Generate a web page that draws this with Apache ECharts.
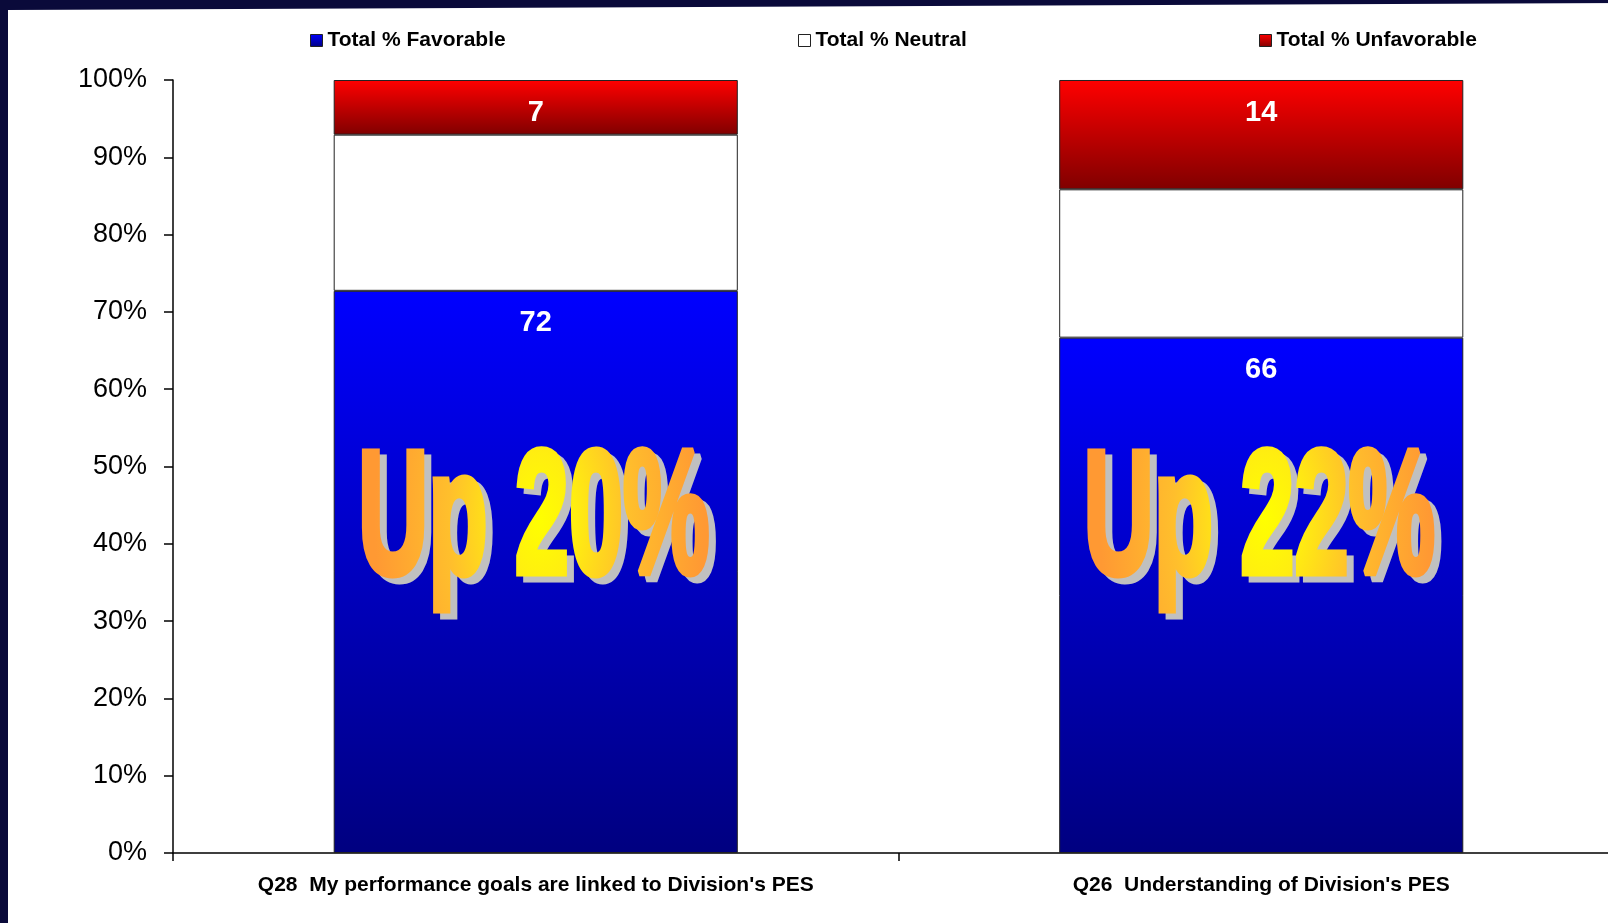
<!DOCTYPE html>
<html><head><meta charset="utf-8">
<script src="https://cdn.jsdelivr.net/npm/echarts@6/dist/echarts.min.js"></script>
<style>html,body{margin:0;padding:0;overflow:hidden;background:#0a0a3a}#c{width:1624px;height:923px}</style>
</head><body><div id="c"></div>
<script>
const categories = ["Q28  My performance goals are linked to Division's PES", "Q26  Understanding of Division's PES"];
const favorable = [72, 66];
const neutral = [20, 19];
const unfavorable = [7, 14];
const gainLabels = ['Up 20%', 'Up 22%'];
const yTicks = [0, 10, 20, 30, 40, 50, 60, 70, 80, 90, 100];

const totals = categories.map((_, i) => favorable[i] + neutral[i] + unfavorable[i]);
const toPct = arr => arr.map((v, i) => v / totals[i] * 100);

const chart = echarts.init(document.getElementById('c'), null, {renderer: 'canvas'});
const FONT = 'Liberation Sans, Arial, sans-serif';

const blueGrad = {type: 'linear', x: 0, y: 0, x2: 0, y2: 1, colorStops: [{offset: 0, color: '#0000ff'}, {offset: 1, color: '#000080'}]};
const redGrad = {type: 'linear', x: 0, y: 0, x2: 0, y2: 1, colorStops: [{offset: 0, color: '#ff0000'}, {offset: 1, color: '#800000'}]};

const valueLabel = (raw) => ({
  show: true, position: 'insideTop', distance: 18, color: '#fff',
  fontFamily: FONT, fontWeight: 'bold', fontSize: 29,
  formatter: p => String(raw[p.dataIndex])
});

const legendBase = {
  top: 30, padding: 0, itemWidth: 12, itemHeight: 12, icon: 'rect',
  itemStyle: {borderColor: '#222', borderWidth: 1},
  textStyle: {fontFamily: FONT, fontWeight: 'bold', fontSize: 21, color: '#000'},
  selectedMode: false
};

chart.setOption({
  animation: false,
  backgroundColor: 'transparent',
  legend: [
    Object.assign({}, legendBase, {left: 310, data: ['Total % Favorable']}),
    Object.assign({}, legendBase, {left: 798, data: ['Total % Neutral']}),
    Object.assign({}, legendBase, {left: 1259, data: ['Total % Unfavorable']})
  ],
  grid: {left: 173, right: 0, top: 80, bottom: 70, containLabel: false},
  xAxis: {
    type: 'category', data: categories,
    axisLine: {lineStyle: {color: '#000', width: 1.5}},
    axisTick: {show: true, length: 8, lineStyle: {color: '#000', width: 1.5}},
    axisLabel: {margin: 22, color: '#000', fontFamily: FONT, fontWeight: 'bold', fontSize: 21}
  },
  yAxis: {
    type: 'value', min: 0, max: 100, interval: 10,
    axisLine: {show: true, lineStyle: {color: '#000', width: 1.5}},
    axisTick: {show: true, length: 9, lineStyle: {color: '#000', width: 1.5}},
    splitLine: {show: false},
    axisLabel: {margin: 26, color: '#000', fontFamily: FONT, fontSize: 27,
      formatter: v => yTicks.includes(v) ? v + '%' : ''}
  },
  series: [
    {name: 'Total % Favorable', type: 'bar', stack: 's', barWidth: '55.7%',
     data: toPct(favorable),
     itemStyle: {color: blueGrad, borderColor: '#222', borderWidth: 1},
     label: valueLabel(favorable)},
    {name: 'Total % Neutral', type: 'bar', stack: 's',
     data: toPct(neutral),
     itemStyle: {color: '#ffffff', borderColor: '#222', borderWidth: 1},
     label: {show: false}},
    {name: 'Total % Unfavorable', type: 'bar', stack: 's',
     data: toPct(unfavorable),
     itemStyle: {color: redGrad, borderColor: '#222', borderWidth: 1},
     label: valueLabel(unfavorable)}
  ]
});

// Radial gradient in the annotation text's local coordinates.
// zrender only assigns string fills to text, so a tiny path with the same
// transform is drawn just before the text to load the gradient into the context.
const textGrad = {type: 'radial', x: 10, y: -5, r: 300, global: true,
  colorStops: [{offset: 0, color: '#ffff00'}, {offset: 0.22, color: '#ffee10'},
               {offset: 0.55, color: '#ffbf2c'}, {offset: 1, color: '#ff9933'}]};
const inherit = {inheritGradient: true};

const graphics = [{
  type: 'polygon', z: -100, silent: true,
  shape: {points: [[8, 10], [1624, 3], [1624, 923], [8, 923]]},
  style: {fill: '#ffffff'}
}];
const SX = 0.55;
gainLabels.forEach((t, i) => {
  const pt = chart.convertToPixel({xAxisIndex: 0, yAxisIndex: 0}, [i, 42.6]);
  const common = {fontFamily: FONT, fontWeight: 'bold', fontSize: 177, align: 'center', verticalAlign: 'middle', text: t, lineWidth: 7};
  graphics.push({
    type: 'text', z: 48, silent: true,
    x: pt[0] + 5, y: pt[1] + 6, scaleX: SX, scaleY: 1,
    style: Object.assign({}, common, {fill: '#c0c0c0', stroke: '#c0c0c0'})
  });
  graphics.push({
    type: 'rect', z: 49, silent: true,
    x: pt[0] - 2, y: pt[1], scaleX: SX, scaleY: 1,
    shape: {x: 0, y: 0, width: 0.01, height: 0.01},
    style: {fill: textGrad, stroke: textGrad, lineWidth: 0.01}
  });
  graphics.push({
    type: 'text', z: 50, silent: true,
    x: pt[0] - 2, y: pt[1], scaleX: SX, scaleY: 1,
    style: Object.assign({}, common, {fill: inherit, stroke: inherit})
  });
});
chart.setOption({graphic: graphics});
</script>
</body></html>
